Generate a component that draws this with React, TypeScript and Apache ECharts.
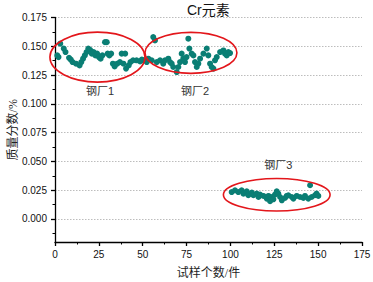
import React, { useEffect, useRef } from "react";
import * as echarts from "echarts";

const chartTitle = "Cr元素";
const xAxisName = "试样个数/件";
const yAxisName = "质量分数/%";

const plant1: [number, number][] = [
  [1.3, 0.1421], [2, 0.1406], [3, 0.1523], [5, 0.148], [6, 0.145], [8, 0.14], [9, 0.1384],
  [10, 0.1363], [12, 0.1349], [14, 0.1334], [15, 0.1363], [16, 0.1392], [17, 0.1421],
  [18, 0.145], [19, 0.148], [20, 0.147], [21, 0.1436], [22, 0.145], [23, 0.1421],
  [24, 0.1436], [25, 0.1406], [26, 0.1392], [27, 0.1421], [28.5, 0.1536], [29.5, 0.1536],
  [30, 0.1436], [31, 0.1421], [32, 0.1436], [33, 0.1349], [34, 0.1325], [35.5, 0.1349],
  [37, 0.1363], [38, 0.1436], [39, 0.1349], [40, 0.1436], [40.5, 0.1306], [42, 0.1334],
  [43, 0.1363], [44.5, 0.1378], [46.5, 0.1378], [48.5, 0.1369], [49.5, 0.1384], [50.5, 0.1378],
];

const plant2: [number, number][] = [
  [52.3, 0.1363], [53.2, 0.1392], [55.1, 0.1378], [56, 0.158], [57, 0.1551], [58, 0.1363],
  [59.9, 0.1378], [61.7, 0.1349], [62.7, 0.1378], [64.6, 0.1392], [65.6, 0.1363], [66.5, 0.1349],
  [67.4, 0.132], [69.4, 0.1276], [70.3, 0.132], [71.3, 0.1363], [72.2, 0.1436], [73.1, 0.1392],
  [74.1, 0.1363], [75, 0.1406], [76, 0.1566], [76.6, 0.148], [77.9, 0.1436], [78.9, 0.1421],
  [79.8, 0.1363], [80.8, 0.132], [81.7, 0.1349], [82.7, 0.1392], [84.6, 0.1436], [86.5, 0.148],
  [87.4, 0.1421], [88.4, 0.1349], [89.3, 0.132], [90.3, 0.1306], [91.2, 0.1378], [92.2, 0.1406],
  [94.1, 0.145], [96, 0.1464], [96.9, 0.1436], [97.9, 0.1421], [98.8, 0.145], [99.8, 0.1441],
];

const plant3: [number, number][] = [
  [100.7, 0.0234], [102.6, 0.0249], [104.5, 0.0234], [106.4, 0.0249], [107.4, 0.022],
  [109.3, 0.024], [110.2, 0.0206], [112.2, 0.0229], [113.1, 0.0206], [115, 0.022],
  [116, 0.0191], [116.9, 0.0212], [118.8, 0.02], [120.7, 0.0177], [121.7, 0.02],
  [122.6, 0.0154], [123.6, 0.0191], [124.5, 0.0171], [125.4, 0.0212], [126.4, 0.024],
  [127.3, 0.022], [128.3, 0.0191], [129.3, 0.0162], [131.1, 0.0182], [132.1, 0.02],
  [133, 0.0206], [135, 0.0191], [135.9, 0.0177], [137.8, 0.02], [139.7, 0.0191],
  [141.6, 0.0182], [142.5, 0.02], [144.4, 0.0177], [145.4, 0.0293], [146.3, 0.0191],
  [148.2, 0.0206], [149.1, 0.022], [150.1, 0.02],
];

const plantNames = ["钢厂1", "钢厂2", "钢厂3"];
const ellipseCx = [24.2, 77.5, 126.4];
const ellipseCy = [0.1406, 0.1443, 0.021];
const ellipseRx = [27.1, 26.2, 30.4];
const ellipseRy = [0.0217, 0.0178, 0.0141];
const labelX = [25.7, 79.8, 127.3];
const labelY = [0.1114, 0.1114, 0.0466];

const yTickValues = [0, 0.025, 0.05, 0.075, 0.1, 0.125, 0.15, 0.175];
const yMinorTickValues = [-0.0125, 0.0125, 0.0375, 0.0625, 0.0875, 0.1125, 0.1375, 0.1625];

const SANS = "'Liberation Sans', Arial, 'Noto Sans CJK SC', sans-serif";
const SERIF = "'Liberation Serif', 'Noto Sans CJK SC', serif";

export default function App() {
  const ref = useRef<HTMLDivElement>(null);
  useEffect(() => {
    if (!ref.current) return;
    const chart = echarts.init(ref.current, undefined, { renderer: "svg" });
    const ellipseData = plantNames.map((_, i) => [
      ellipseCx[i], ellipseCy[i], ellipseRx[i], ellipseRy[i], labelX[i], labelY[i],
    ]);
    const axisLineStyle = { color: "#000", width: 1.3 };
    const dotStyle = { color: "#0a7e74", opacity: 1 };
    chart.setOption({
      animation: false,
      title: {
        text: chartTitle,
        left: 187,
        top: 3,
        padding: 0,
        textStyle: { fontSize: 14, fontWeight: "normal", color: "#111", fontFamily: SANS },
      },
      grid: { left: 55, right: 11, top: 17.5, bottom: 40, containLabel: false, outerBoundsMode: "none" },
      xAxis: {
        type: "value",
        min: 0,
        max: 175,
        interval: 25,
        name: xAxisName,
        nameLocation: "middle",
        nameGap: 25,
        nameMoveOverlap: false,
        nameTextStyle: { fontSize: 12, color: "#222", fontFamily: SERIF },
        axisLine: { show: true, onZero: false, lineStyle: axisLineStyle },
        axisTick: { show: true, inside: false, length: 4, lineStyle: axisLineStyle },
        minorTick: { show: true, splitNumber: 2, length: 2.5, lineStyle: { color: "#000", width: 1 } },
        axisLabel: { fontSize: 10, color: "#111", margin: 7, fontFamily: SANS },
        splitLine: { show: false },
      },
      yAxis: [
        {
          type: "value",
          min: -0.02,
          max: 0.175,
          name: yAxisName,
          nameLocation: "middle",
          nameGap: 36,
          nameMoveOverlap: false,
          nameTextStyle: { fontSize: 12, color: "#222", fontFamily: SERIF },
          axisLine: { show: true, onZero: false, lineStyle: axisLineStyle },
          axisTick: { show: true, inside: false, length: 4, customValues: yTickValues, lineStyle: axisLineStyle },
          axisLabel: {
            fontSize: 10,
            color: "#111",
            margin: 8,
            fontFamily: SANS,
            customValues: yTickValues,
            formatter: (v: number) => v.toFixed(3),
          },
          splitLine: { show: true, lineStyle: { color: "#bdbdbd", type: [1.5, 1.5], width: 1 } },
        },
        {
          type: "value",
          min: -0.02,
          max: 0.175,
          position: "left",
          offset: 0,
          axisLine: { show: false },
          axisTick: { show: true, inside: false, length: 2.5, customValues: yMinorTickValues, lineStyle: { color: "#000", width: 1 } },
          axisLabel: { show: false },
          splitLine: { show: false },
        },
      ],
      series: [
        { type: "scatter", name: plantNames[0], data: plant1, symbolSize: 6, itemStyle: dotStyle, z: 2 },
        { type: "scatter", name: plantNames[1], data: plant2, symbolSize: 6, itemStyle: dotStyle, z: 2 },
        { type: "scatter", name: plantNames[2], data: plant3, symbolSize: 6, itemStyle: dotStyle, z: 2 },
        {
          type: "custom",
          data: ellipseData,
          clip: false,
          z: 3,
          renderItem: (params: any, api: any) => {
            const i = params.dataIndex;
            const c = api.coord([api.value(0), api.value(1)]);
            const s = api.size([api.value(2), api.value(3)]);
            const l = api.coord([api.value(4), api.value(5)]);
            return {
              type: "group",
              children: [
                {
                  type: "ellipse",
                  shape: { cx: c[0], cy: c[1], rx: s[0], ry: s[1] },
                  style: { fill: "none", stroke: "#e3161b", lineWidth: 1.6 },
                },
                {
                  type: "text",
                  x: l[0],
                  y: l[1],
                  style: {
                    text: plantNames[i],
                    fill: "#333",
                    fontSize: 11,
                    fontFamily: SANS,
                    align: "center",
                    verticalAlign: "middle",
                  },
                },
              ],
            };
          },
        },
      ],
    });
    return () => chart.dispose();
  }, []);
  return <div ref={ref} style={{ width: 373, height: 282, position: "absolute", left: 0, top: 0 }} />;
}
